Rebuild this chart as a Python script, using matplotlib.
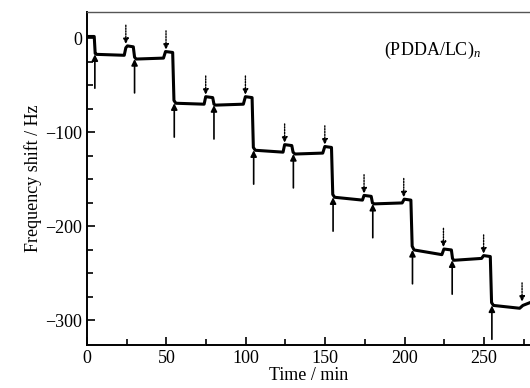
import matplotlib.pyplot as plt

plt.rcParams['font.family'] = ['Liberation Serif', 'DejaVu Serif']
plt.rcParams['mathtext.fontset'] = 'custom'
plt.rcParams['mathtext.it'] = 'Liberation Serif:italic'
plt.rcParams['mathtext.rm'] = 'Liberation Serif'

# Zeitpunkte (min) und Frequenzverschiebung (Hz) der Messkurve
time = [0, 4.6, 5.2, 6, 23.5, 24.5, 25.5, 29.2, 30, 31, 48.2, 49.5, 54, 54.8, 56,
        73.8, 74.8, 79.2, 80, 81, 98.5, 99.8, 104, 104.8, 106,
        123.5, 124.5, 129, 129.8, 131, 148.5, 149.8, 154, 154.8, 156,
        173.5, 174.5, 179, 179.8, 181, 198.5, 199.8, 204, 204.8, 206,
        223.5, 224.8, 229.5, 230.2, 231, 248.5, 249.8, 254, 254.8, 256,
        272.5, 274.5, 279]
freq = [2, 2, -16, -17, -18, -10, -8, -9, -20, -22, -21, -14, -15, -66, -69,
        -70, -62, -63, -70, -71, -70, -62, -63, -116, -119,
        -121, -113, -114, -121, -123, -122, -115, -116, -166, -169,
        -172, -167, -168, -175, -176, -175, -171, -172, -221, -225,
        -230, -224, -225, -234, -236, -234, -231, -232, -281, -284,
        -287, -284, -281]

# durchgezogene Pfeile (Adsorption) und gestrichelte Pfeile (Spuelen)
solid_t = [5, 30, 55, 80, 105, 130, 155, 180, 205, 230, 255]
solid_f = [-17, -22, -69, -71, -119, -123, -169, -176, -225, -236, -284]
dotted_t = [24.5, 49.8, 74.8, 99.8, 124.5, 149.8, 174.5, 199.5, 224.5, 249.8, 274]
dotted_f = [-8, -14, -62, -62, -113, -115, -167, -171, -224, -231, -282]

fig = plt.figure(figsize=(5.3, 3.88), dpi=100)
ax = fig.add_axes([0.164, 0.111, 0.836, 0.858])

ax.plot(time, freq, color='black', lw=2.2)

for t, f in zip(solid_t, solid_f):
    ax.annotate('', xy=(t, f), xytext=(t, f - 36),
                arrowprops=dict(arrowstyle='-|>', color='black', lw=1.2,
                                mutation_scale=9, shrinkA=0, shrinkB=0))
for t, f in zip(dotted_t, dotted_f):
    ax.annotate('', xy=(t, f + 2), xytext=(t, f + 22),
                arrowprops=dict(arrowstyle='-|>', color='black', lw=1.0,
                                linestyle=(0, (1, 1)), mutation_scale=8,
                                shrinkA=0, shrinkB=0))

ax.set_xlim(0, 279)
ax.set_ylim(-326, 28)
ax.set_xticks([0, 50, 100, 150, 200, 250])
ax.set_xticks(range(25, 279, 50), minor=True)
ax.set_yticks([0, -100, -200, -300])
ax.set_yticks([-25, -50, -75, -125, -150, -175, -225, -250, -275], minor=True)
ax.tick_params(which='both', direction='in', labelsize=13, width=1.2)
ax.tick_params(which='major', length=6)
ax.tick_params(which='minor', length=4)
ax.spines['right'].set_visible(False)
for s in ['left', 'bottom']:
    ax.spines[s].set_linewidth(1.4)
ax.spines['top'].set_linewidth(1.0)
ax.spines['top'].set_color('#555555')

ax.set_xlabel('Time / min', fontsize=13, labelpad=0)
ax.set_ylabel('Frequency shift / Hz', fontsize=13, labelpad=2)
ax.text(0.78, 0.885, '(PDDA/LC)$_{n}$', transform=ax.transAxes,
        fontsize=13, ha='center', va='center')

plt.savefig('out.png', dpi=100)
